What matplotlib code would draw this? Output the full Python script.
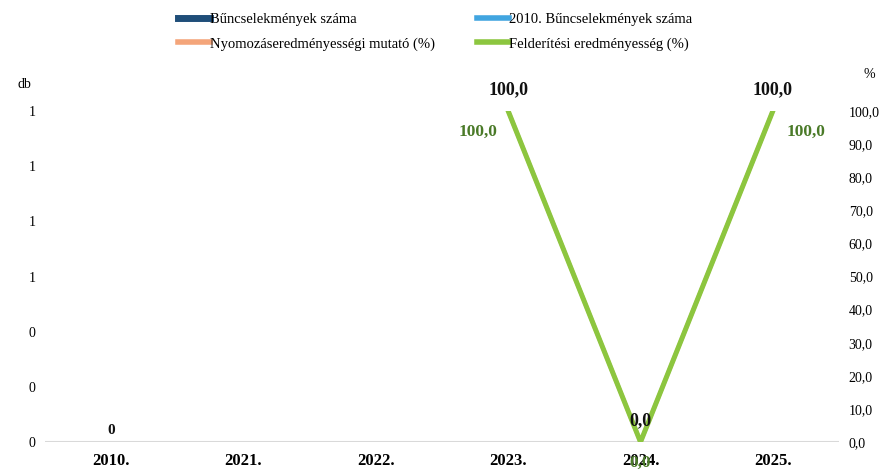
import matplotlib
matplotlib.use("Agg")
import matplotlib.pyplot as plt
from matplotlib.lines import Line2D
from matplotlib.ticker import FuncFormatter, FixedLocator

categories = ["2010.", "2021.", "2022.", "2023.", "2024.", "2025."]
crimes = [0, None, None, None, None, None]
crimes_2010 = [None, None, None, None, None, None]
nyomozas = [None, None, None, 100.0, 0.0, 100.0]
felderites = [None, None, None, 100.0, 0.0, 100.0]
left_ticks = [0, 0.2, 0.4, 0.6, 0.8, 1.0, 1.2]
right_ticks = [0, 10, 20, 30, 40, 50, 60, 70, 80, 90, 100]

plt.rcParams['font.family'] = ['Liberation Serif', 'DejaVu Serif']

fig = plt.figure(figsize=(8.9, 4.73), dpi=100)
ax = fig.add_axes([0.0506, 0.0655, 0.8921, 0.6998])
ax2 = ax.twinx()

x = list(range(len(categories)))
ax.set_xlim(-0.5, len(categories) - 0.5)
ax.set_ylim(0, 1.2)
ax2.set_ylim(0, 100)

# bars (all zero)
bar_vals = [v if v is not None else 0 for v in crimes]
ax.bar(x, bar_vals, width=0.6, color="#1f4e79")
ax.axhline(0, color="#d9d9d9", lw=1.5, zorder=1)
for xi, v in zip(x, crimes):
    if v is not None:
        ax.text(xi, 0.04, f"{v:.0f}", ha="center", va="center", fontsize=11, fontweight="bold", color="#111111")

green = "#8cc63f"
orange = "#f4a57a"

xs = [xi for xi, v in zip(x, nyomozas) if v is not None]
ny = [v for v in nyomozas if v is not None]
fe = [v for v in felderites if v is not None]
ax2.plot(xs, ny, color=orange, lw=3, zorder=2)
ax2.plot(xs, fe, color=green, lw=3.6, zorder=3, solid_joinstyle="miter")

for xi, v in zip(xs, ny):
    ax2.annotate(f"{v:.1f}".replace(".", ","), (xi, v), xytext=(0, 9), textcoords="offset points",
                 ha="center", va="bottom", fontsize=13, fontweight="bold", color="#111111")
offsets = {3: (-22, -15), 4: (0, -15), 5: (24, -15)}
for xi, v in zip(xs, fe):
    dx, dy = offsets[xi]
    ax2.annotate(f"{v:.1f}".replace(".", ","), (xi, v), xytext=(dx, dy), textcoords="offset points",
                 ha="center", va="center", fontsize=12.5, fontweight="bold", color="#4a7a28", zorder=1)

ax.set_xticks(x)
ax.set_xticklabels(categories, fontweight="bold")
ax.yaxis.set_major_locator(FixedLocator(left_ticks))
ax.yaxis.set_major_formatter(FuncFormatter(lambda v, p: f"{v:.0f}"))
ax2.yaxis.set_major_locator(FixedLocator(right_ticks))
ax2.yaxis.set_major_formatter(FuncFormatter(lambda v, p: f"{v:.1f}".replace(".", ",")))
for a in (ax, ax2):
    for s in a.spines.values():
        s.set_visible(False)
    a.tick_params(length=0, labelsize=10)
ax.tick_params(axis="y", pad=7)
ax2.tick_params(axis="y", pad=7)
ax.tick_params(axis="x", pad=8, labelsize=12)

fig.text(0.028, 0.815, "db", fontsize=10, ha="center")
fig.text(0.977, 0.835, "%", fontsize=10, ha="center")

handles = [
    Line2D([], [], color="#1f4e79", lw=5),
    Line2D([], [], color="#41a5e0", lw=4),
    Line2D([], [], color=orange, lw=4),
    Line2D([], [], color=green, lw=4),
]
labels = ["Bűncselekmények száma", "2010. Bűncselekmények száma",
          "Nyomozáseredményességi mutató (%)", "Felderítési eredményesség (%)"]
order = [0, 2, 1, 3]
fig.legend([handles[i] for i in order], [labels[i] for i in order], ncol=2,
           loc="upper left", bbox_to_anchor=(0.185, 1.0), frameon=False,
           fontsize=10.5, handlelength=2.2, handletextpad=0.0, columnspacing=2.9,
           labelspacing=0.75)

fig.savefig("out.png", dpi=100)
